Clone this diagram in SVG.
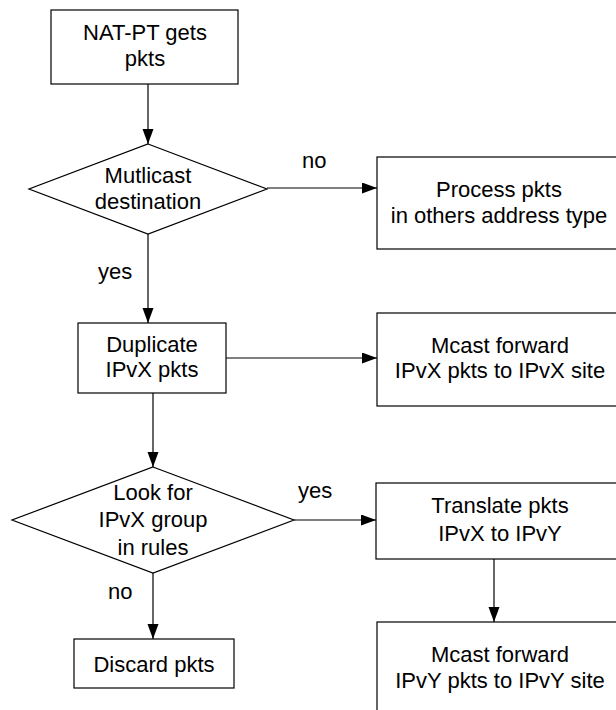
<svg xmlns="http://www.w3.org/2000/svg" width="616" height="710" viewBox="0 0 616 710">
<defs>
<marker id="arr" markerUnits="userSpaceOnUse" markerWidth="15" markerHeight="12" refX="15" refY="5.5" orient="auto">
<path d="M0,0 L15,5.5 L0,11 z" fill="#000"/>
</marker>
<style>
.n{fill:#fff;stroke:#000;stroke-width:1.2}
.t{font-family:"Liberation Sans",Arial,sans-serif;font-size:22px;fill:#000;text-anchor:middle}
.l{font-family:"Liberation Sans",Arial,sans-serif;font-size:22px;fill:#000}
.c{fill:none;stroke:#000;stroke-width:1.2;marker-end:url(#arr)}
</style>
</defs>
<rect width="616" height="710" fill="#fff"/>
<g id="connectors">
<line class="c" x1="148" y1="84" x2="148" y2="144"/>
<line class="c" x1="267" y1="188" x2="377" y2="188"/>
<line class="c" x1="148" y1="234" x2="148" y2="323"/>
<line class="c" x1="226" y1="358" x2="377" y2="358"/>
<line class="c" x1="153" y1="393" x2="153" y2="467"/>
<line class="c" x1="294" y1="520" x2="376" y2="520"/>
<line class="c" x1="153" y1="573" x2="153" y2="639"/>
<line class="c" x1="494" y1="559" x2="494" y2="622"/>
<text class="l" x="302" y="168">no</text>
<text class="l" x="98" y="279">yes</text>
<text class="l" x="298" y="498">yes</text>
<text class="l" x="108" y="599">no</text>
</g>
<g id="start">
<rect class="n" x="51" y="10" width="187" height="74"/>
<text class="t" x="145" y="40">NAT-PT gets</text>
<text class="t" x="145" y="66">pkts</text>
</g>
<g id="multicast">
<polygon class="n" points="148,144 267,189 148,234 29,189"/>
<text class="t" x="148" y="183">Mutlicast</text>
<text class="t" x="148" y="209">destination</text>
</g>
<g id="process">
<rect class="n" x="377" y="157" width="245" height="92"/>
<text class="t" x="499" y="197">Process pkts</text>
<text class="t" x="499" y="223">in others address type</text>
</g>
<g id="duplicate">
<rect class="n" x="78" y="323" width="148" height="70"/>
<text class="t" x="152" y="352">Duplicate</text>
<text class="t" x="152" y="377">IPvX pkts</text>
</g>
<g id="mcastx">
<rect class="n" x="377" y="313" width="245" height="93"/>
<text class="t" x="500" y="353">Mcast forward</text>
<text class="t" x="500" y="378">IPvX pkts to IPvX site</text>
</g>
<g id="lookfor">
<polygon class="n" points="153,467 294,520 153,573 12,520"/>
<text class="t" x="153" y="500">Look for</text>
<text class="t" x="153" y="527">IPvX group</text>
<text class="t" x="153" y="555">in rules</text>
</g>
<g id="translate">
<rect class="n" x="376" y="483" width="246" height="76"/>
<text class="t" x="500" y="513">Translate pkts</text>
<text class="t" x="500" y="541">IPvX to IPvY</text>
</g>
<g id="discard">
<rect class="n" x="74" y="639" width="160" height="49"/>
<text class="t" x="154" y="672">Discard pkts</text>
</g>
<g id="mcasty">
<rect class="n" x="377" y="622" width="245" height="100"/>
<text class="t" x="500" y="662">Mcast forward</text>
<text class="t" x="500" y="688">IPvY pkts to IPvY site</text>
</g>
</svg>
